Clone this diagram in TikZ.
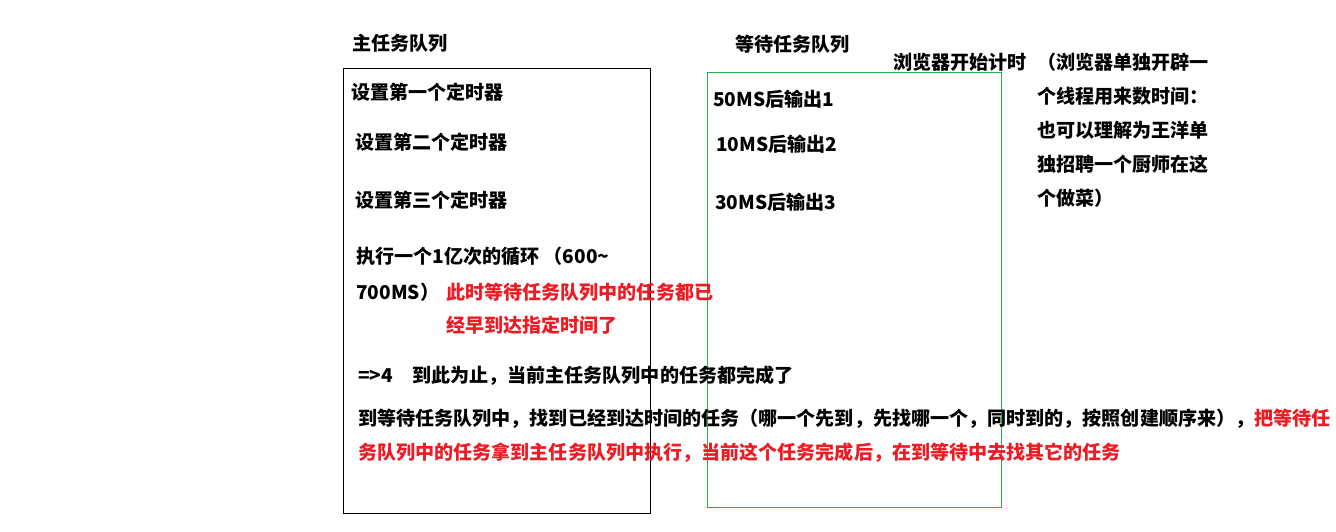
\documentclass[tikz,border=0pt]{standalone}
\usepackage{fontspec}
\newfontfamily\cjk{Noto Sans CJK SC}
\usetikzlibrary{positioning}
\definecolor{paintred}{RGB}{237,28,36}
\definecolor{paintgreen}{RGB}{34,177,76}
\tikzset{
    txt/.style={
        anchor=north west, inner sep=0pt, align=left,
        font=\cjk\bfseries\fontsize{14.3}{25.5}\selectfont,
    },
    note/.style={txt, text=paintred},
    mainbox/.style={
        rectangle, draw=black, anchor=north west, inner sep=0pt,
        minimum width=230.25pt, minimum height=333.75pt, line width=0.75pt,
    },
    waitbox/.style={
        rectangle, draw=paintgreen, anchor=north west, inner sep=0pt,
        minimum width=220.5pt, minimum height=326.25pt, line width=0.75pt,
    },
}

\begin{document}
\begin{tikzpicture}[x=0.75pt, y=-0.75pt]

    \useasboundingbox (0,0) rectangle (1336,532);

    % the two queues
    \node[mainbox] (mainq) at (343,68) {};
    \node[waitbox] (waitq) at (707,72) {};

    \node[txt] (mainhead) at (352,34) {主任务队列};
    \node[txt] (waithead) at (735,35) {等待任务队列};
    \node[txt] (timerhead) at (893,53) {浏览器开始计时};
    \node[txt] (timerinfo) at (1037,53) {（浏览器单独开辟一\\个线程用来数时间：\\也可以理解为王洋单\\独招聘一个厨师在这\\个做菜）};

    % main queue
    \node[txt] (set1) at (351,83) {设置第一个定时器};
    \node[txt] (set2) at (355,133) {设置第二个定时器};
    \node[txt] (set3) at (355,191) {设置第三个定时器};
    \node[txt] (loopa) at (356,247) {执行一个1亿次的循环 （600{\char"7E}};
    \node[txt] (loopb) at (356,283) {700MS）};
    \node[note, right=5pt of loopb.north east, anchor=north west,
          font=\cjk\bfseries\fontsize{14.3}{24.75}\selectfont] (late)
        {此时等待任务队列中的任务都已\\经早到达指定时间了};
    \node[txt] (done) at (358,366) {=>4\hspace{1em}到此为止，当前主任务队列中的任务都完成了};
    \node[txt] (fetch) at (358,409)
        {到等待任务队列中，找到已经到达时间的任务（哪一个先到，先找哪一个，同时到的，按照创建顺序来），\textcolor{paintred}{把等待任}\\
         \textcolor{paintred}{务队列中的任务拿到主任务队列中执行，当前这个任务完成后，在到等待中去找其它的任务}};

    % waiting queue
    \node[txt] (out1) at (713,90) {50MS后输出1};
    \node[txt] (out2) at (716,135) {10MS后输出2};
    \node[txt] (out3) at (715,193) {30MS后输出3};

\end{tikzpicture}
\end{document}
